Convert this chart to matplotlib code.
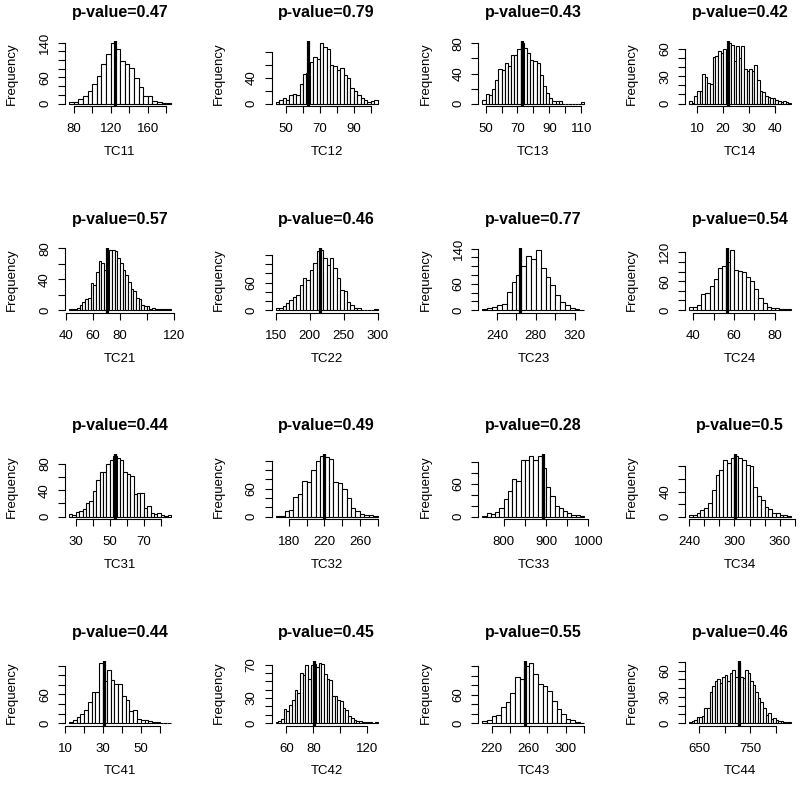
import matplotlib
matplotlib.use("Agg")
import matplotlib.pyplot as plt
import numpy as np

plt.rcParams['font.family'] = ['Liberation Sans', 'DejaVu Sans']

# names, p-values and observed statistic (vertical line)
panel_names = ["TC11", "TC12", "TC13", "TC14",
               "TC21", "TC22", "TC23", "TC24",
               "TC31", "TC32", "TC33", "TC34",
               "TC41", "TC42", "TC43", "TC44"]
p_values = ["0.47", "0.79", "0.43", "0.42",
            "0.57", "0.46", "0.77", "0.54",
            "0.44", "0.49", "0.28", "0.5",
            "0.44", "0.45", "0.55", "0.46"]
observed = [124.5, 63, 73, 22,
            70.5, 215.5, 264, 56.5,
            53, 219.5, 893, 300.5,
            30.6, 80.7, 256, 727]

# histogram breaks: first break and bin width
bin_start = [75, 44, 48, 7, 42, 150, 225, 38, 26, 165, 750, 240, 12, 52, 210, 630]
bin_width = [5, 2, 2, 1, 2, 5, 5, 2, 2, 5, 10, 5, 2, 2, 5, 5]

# counts
counts_tc11 = [3, 3, 10, 18, 28, 46, 64, 90, 113, 138, 126, 98, 91, 81, 58, 38, 18, 18, 7, 4, 2, 1]
counts_tc12 = [3, 5, 8, 6, 13, 15, 14, 30, 45, 48, 64, 72, 69, 93, 87, 85, 60, 58, 52, 55,
               44, 40, 24, 20, 14, 9, 5, 2, 4, 6]
counts_tc13 = [5, 13, 12, 19, 32, 46, 44, 54, 50, 65, 65, 72, 80, 74, 67, 58, 56, 54, 38, 23,
               14, 7, 4, 3, 4, 0, 0, 0, 0, 0, 0, 2]
counts_tc14 = [3, 1, 8, 14, 14, 32, 29, 23, 21, 51, 52, 58, 55, 60, 58, 66, 64, 47, 63, 50,
               63, 38, 36, 38, 36, 42, 26, 14, 13, 8, 7, 6, 6, 4, 3, 2, 3, 2, 1]
counts_tc21 = [1, 1, 1, 3, 7, 10, 15, 16, 35, 32, 50, 64, 61, 52, 73, 78, 78, 76, 67, 61,
               52, 46, 37, 27, 25, 16, 14, 6, 5, 5, 2, 3, 1, 1, 2, 1, 1, 1]
counts_tc22 = [4, 4, 9, 15, 22, 29, 33, 55, 69, 65, 88, 102, 128, 131, 113, 99, 113, 91, 69, 44,
               42, 18, 11, 5, 4, 1, 1, 1, 1, 2]
counts_tc23 = [2, 4, 7, 11, 15, 42, 63, 80, 101, 123, 117, 137, 96, 76, 57, 34, 18, 11, 5, 2, 1]
counts_tc24 = [7, 7, 11, 33, 36, 51, 65, 87, 91, 100, 125, 83, 82, 80, 69, 60, 43, 25, 14, 7,
               5, 5, 2, 2, 2]
counts_tc31 = [4, 2, 7, 9, 11, 20, 24, 38, 55, 67, 68, 79, 86, 91, 89, 85, 68, 65, 62, 34,
               36, 35, 13, 16, 5, 4, 5, 3, 1, 2]
counts_tc32 = [2, 2, 11, 15, 42, 48, 77, 74, 99, 120, 129, 127, 123, 74, 72, 60, 39, 18, 13, 6,
               4, 3, 2]
counts_tc33 = [1, 6, 4, 9, 16, 33, 47, 68, 65, 104, 104, 110, 104, 110, 89, 54, 37, 19, 16, 11,
               6, 3, 3, 1]
counts_tc34 = [2, 3, 5, 11, 13, 21, 43, 67, 75, 91, 86, 93, 96, 94, 91, 83, 80, 48, 33, 27,
               16, 12, 6, 5, 2, 3, 1]
counts_tc41 = [2, 6, 12, 20, 27, 44, 66, 66, 126, 89, 111, 91, 82, 82, 56, 49, 25, 27, 9, 6,
               6, 4, 2, 2, 1, 1, 1]
counts_tc42 = [1, 2, 5, 17, 14, 22, 28, 40, 36, 60, 58, 69, 53, 69, 71, 67, 72, 71, 59, 53,
               51, 33, 32, 28, 26, 18, 16, 9, 6, 4, 3, 2, 1, 1, 1, 1, 0, 1]
counts_tc43 = [4, 6, 14, 18, 35, 44, 64, 98, 93, 121, 127, 103, 82, 78, 67, 46, 30, 20, 9, 7, 2, 1]
counts_tc44 = [1, 2, 3, 7, 7, 8, 17, 17, 36, 43, 48, 50, 46, 53, 55, 48, 58, 61, 53, 69,
               53, 52, 61, 58, 48, 44, 36, 29, 24, 17, 9, 11, 5, 6, 3, 2, 2, 1, 1, 1]
counts = [counts_tc11, counts_tc12, counts_tc13, counts_tc14,
          counts_tc21, counts_tc22, counts_tc23, counts_tc24,
          counts_tc31, counts_tc32, counts_tc33, counts_tc34,
          counts_tc41, counts_tc42, counts_tc43, counts_tc44]

# x axis ticks and which of them carry a label
x_ticks = [[80, 100, 120, 140, 160, 180], [50, 60, 70, 80, 90, 100],
           [50, 60, 70, 80, 90, 100, 110], [10, 20, 30, 40],
           [40, 60, 80, 100, 120], [150, 200, 250, 300],
           [240, 260, 280, 300, 320], [40, 50, 60, 70, 80],
           [30, 40, 50, 60, 70, 80], [180, 200, 220, 240, 260, 280],
           [800, 850, 900, 950, 1000], [240, 260, 280, 300, 320, 340, 360, 380],
           [10, 20, 30, 40, 50, 60], [60, 80, 100, 120],
           [220, 240, 260, 280, 300, 320], [650, 700, 750, 800]]
x_labels = [[80, 120, 160], [50, 70, 90], [50, 70, 90, 110], [10, 20, 30, 40],
            [40, 60, 80, 120], [150, 200, 250, 300], [240, 280, 320], [40, 60, 80],
            [30, 50, 70], [180, 220, 260], [800, 900, 1000], [240, 300, 360],
            [10, 30, 50], [60, 80, 120], [220, 260, 300], [650, 750]]

# y axis: top tick, step, labelled values
y_top = [140, 80, 80, 60, 80, 120, 140, 120, 80, 120, 100, 80, 120, 70, 120, 70]
y_step = [20, 20, 20, 10, 20, 20, 20, 20, 20, 20, 20, 20, 20, 10, 20, 10]
y_labels = [[0, 60, 140], [0, 40], [0, 40, 80], [0, 30, 60],
            [0, 40, 80], [0, 60], [0, 60, 140], [0, 60, 120],
            [0, 40, 80], [0, 60], [0, 60], [0, 40],
            [0, 60], [0, 30, 70], [0, 60], [0, 30, 60]]

W, H = 800, 790
fig = plt.figure(figsize=(W / 100, H / 100), dpi=100)

# plot region in pixels
pw, ph = 110, 65
for i in range(16):
    r, c = divmod(i, 4)
    left = 65 + 206.7 * c
    bottom = 106 + 206.5 * r
    ax = fig.add_axes([left / W, 1 - bottom / H, pw / W, ph / H])

    k = np.array(counts[i])
    edges = bin_start[i] + bin_width[i] * np.arange(len(k) + 1)
    ax.bar(edges[:-1], k, width=bin_width[i], align='edge', color='white',
           edgecolor='black', linewidth=0.8)
    ax.axvline(observed[i], color='black', linewidth=2.3)

    span = edges[-1] - edges[0]
    ax.set_xlim(edges[0] - 0.04 * span, edges[-1] + 0.04 * span)
    ax.set_ylim(-0.04 * k.max(), 1.04 * k.max())

    xt = x_ticks[i]
    ax.set_xticks(xt)
    ax.set_xticklabels([str(v) if v in x_labels[i] else '' for v in xt])
    yt = list(range(0, y_top[i] + 1, y_step[i]))
    ax.set_yticks(yt)
    ax.set_yticklabels([str(v) if v in y_labels[i] else '' for v in yt])

    for s in ['top', 'right']:
        ax.spines[s].set_visible(False)
    ax.spines['bottom'].set_bounds(xt[0], xt[-1])
    ax.spines['left'].set_bounds(0, yt[-1])
    for s in ['bottom', 'left']:
        ax.spines[s].set_linewidth(0.8)

    ax.tick_params(axis='both', length=5, width=0.8, labelsize=9.5, direction='out')
    ax.tick_params(axis='x', pad=7.5)
    ax.tick_params(axis='y', pad=5, labelrotation=90)
    for lbl in ax.get_yticklabels():
        lbl.set_va('center')

    ax.text(0.5, 1 + 28 / ph, "p-value=" + p_values[i], transform=ax.transAxes,
            ha='center', va='center', fontsize=11.5, fontweight='bold')
    ax.text(0.5, -46 / ph, panel_names[i], transform=ax.transAxes,
            ha='center', va='center', fontsize=9.5)
    ax.text(-53 / pw, 0.5, "Frequency", transform=ax.transAxes, rotation=90,
            ha='center', va='center', fontsize=9.5)

fig.savefig("out.png", dpi=100)
